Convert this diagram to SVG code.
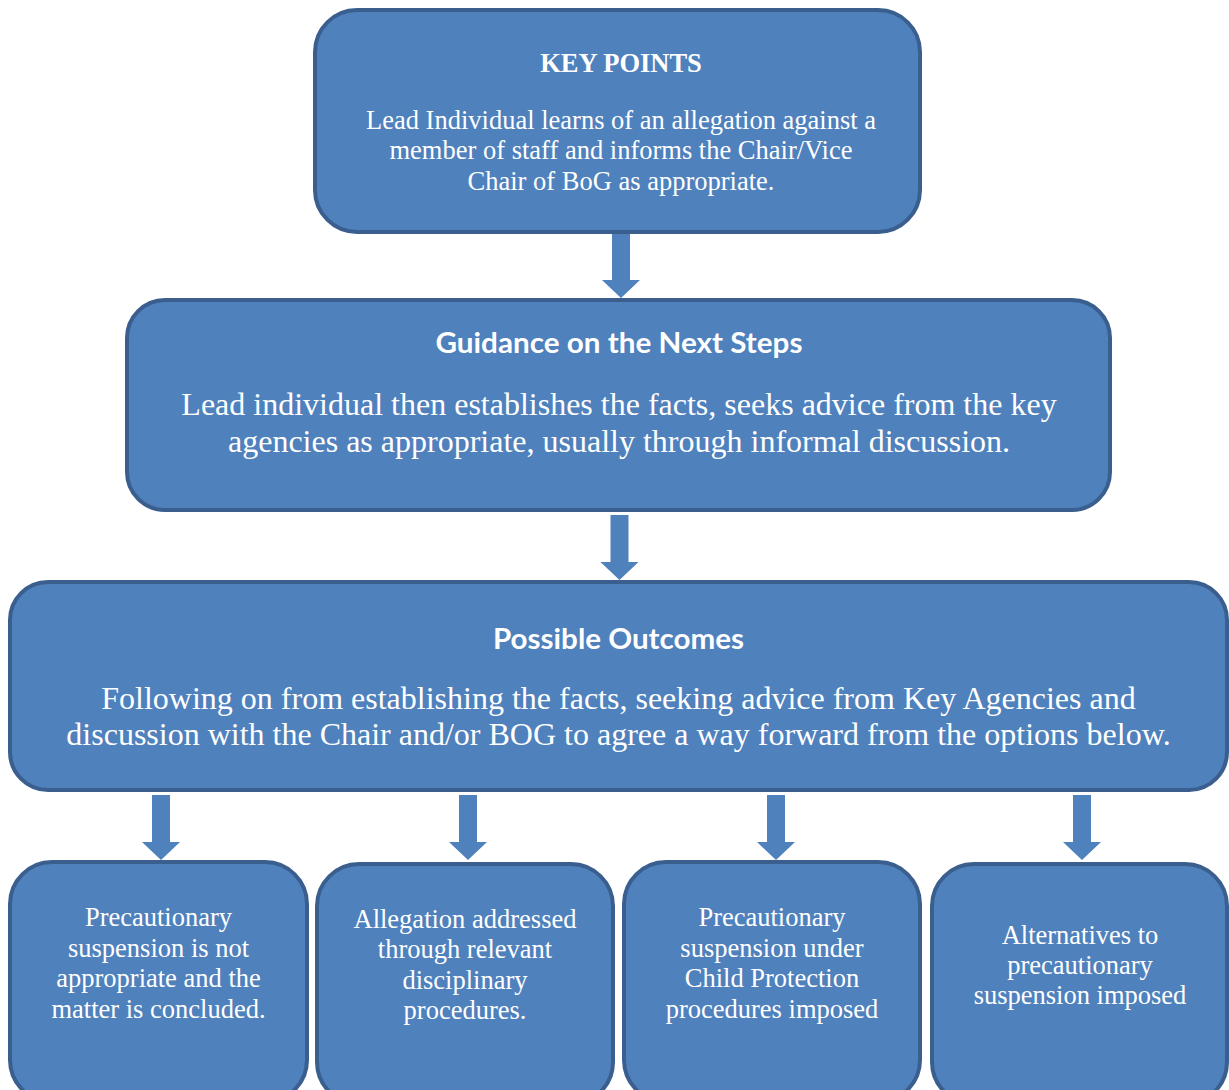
<svg xmlns="http://www.w3.org/2000/svg" width="1229" height="1090" viewBox="0 0 1229 1090">
<style>
.box{fill:#4F81BD;stroke:#3A5F8E;stroke-width:4}
.arr{fill:#4F81BD;stroke:none}
.serif{font-family:"Liberation Serif","Times New Roman",serif;fill:#FFFFFF;text-anchor:middle}
.sans{font-family:"Lato","Open Sans","Liberation Sans",sans-serif;font-weight:bold;fill:#FFFFFF;text-anchor:middle}
.s26{font-size:26.5px}
.s32{font-size:32px}
</style>
<rect width="1229" height="1090" fill="#FFFFFF"/>
<g id="connectors">
<polygon class="arr" points="612,233 630,233 630,280 640,280 621,298 602,280 612,280"/>
<polygon class="arr" points="610.5,515 628.5,515 628.5,562 638.5,562 619.5,580 600.5,562 610.5,562"/>
<polygon class="arr" points="152,795 170,795 170,842 180,842 161,860 142,842 152,842"/>
<polygon class="arr" points="459,795 477,795 477,842 487,842 468,860 449,842 459,842"/>
<polygon class="arr" points="767,795 785,795 785,842 795,842 776,860 757,842 767,842"/>
<polygon class="arr" points="1073,795 1091,795 1091,842 1101,842 1082,860 1063,842 1073,842"/>
</g>
<g id="key-points">
<rect class="box" x="315" y="10" width="605" height="222" rx="42"/>
<text class="serif s26" x="621" y="72" font-weight="bold">KEY POINTS</text>
<text class="serif s26" x="621" y="129">Lead Individual learns of an allegation against a</text>
<text class="serif s26" x="621" y="159">member of staff and informs the Chair/Vice</text>
<text class="serif s26" x="621" y="190">Chair of BoG as appropriate.</text>
</g>
<g id="guidance">
<rect class="box" x="127" y="300" width="983" height="210" rx="38"/>
<text class="sans" x="619" y="353" font-size="29" textLength="367" lengthAdjust="spacingAndGlyphs">Guidance on the Next Steps</text>
<text class="serif s32" x="619" y="415">Lead individual then establishes the facts, seeks advice from the key</text>
<text class="serif s32" x="619" y="452">agencies as appropriate, usually through informal discussion.</text>
</g>
<g id="outcomes">
<rect class="box" x="10" y="582" width="1217" height="208" rx="38"/>
<text class="sans" x="618.5" y="649" font-size="29" textLength="251" lengthAdjust="spacingAndGlyphs">Possible Outcomes</text>
<text class="serif s32" x="618.5" y="709">Following on from establishing the facts, seeking advice from Key Agencies and</text>
<text class="serif s32" x="618.5" y="745">discussion with the Chair and/or BOG to agree a way forward from the options below.</text>
</g>
<g id="outcome-1">
<rect class="box" x="10" y="862" width="297" height="240" rx="42"/>
<text class="serif s26" x="158.5" y="926">Precautionary</text>
<text class="serif s26" x="158.5" y="957">suspension is not</text>
<text class="serif s26" x="158.5" y="987">appropriate and the</text>
<text class="serif s26" x="158.5" y="1018">matter is concluded.</text>
</g>
<g id="outcome-2">
<rect class="box" x="317" y="864" width="296" height="240" rx="42"/>
<text class="serif s26" x="465" y="928">Allegation addressed</text>
<text class="serif s26" x="465" y="958">through relevant</text>
<text class="serif s26" x="465" y="989">disciplinary</text>
<text class="serif s26" x="465" y="1019">procedures.</text>
</g>
<g id="outcome-3">
<rect class="box" x="624" y="862" width="296" height="240" rx="42"/>
<text class="serif s26" x="772" y="926">Precautionary</text>
<text class="serif s26" x="772" y="957">suspension under</text>
<text class="serif s26" x="772" y="987">Child Protection</text>
<text class="serif s26" x="772" y="1018">procedures imposed</text>
</g>
<g id="outcome-4">
<rect class="box" x="932" y="864" width="295" height="240" rx="42"/>
<text class="serif s26" x="1080" y="944">Alternatives to</text>
<text class="serif s26" x="1080" y="974">precautionary</text>
<text class="serif s26" x="1080" y="1004">suspension imposed</text>
</g>
</svg>
